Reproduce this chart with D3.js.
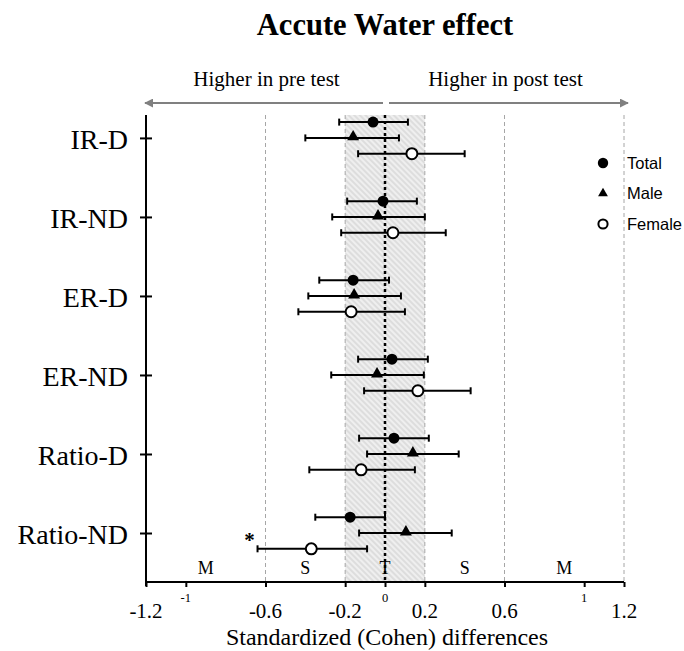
<!DOCTYPE html>
<html>
<head>
<meta charset="utf-8">
<script src="https://cdn.jsdelivr.net/npm/d3@7"></script>
<style>
  body { margin: 0; background: #fff; }
  svg { display: block; }
  .serif { font-family: "Liberation Serif", "Times New Roman", serif; }
  .sans { font-family: "Liberation Sans", Arial, sans-serif; }
</style>
</head>
<body>
<div class="chart"></div>
<script>
let width = 684,
    height = 651;

// categories, top to bottom
const categories = ["IR-D", "IR-ND", "ER-D", "ER-ND", "Ratio-D", "Ratio-ND"];
const groups = ["Total", "Male", "Female"];

// standardized differences (Cohen) with lower / upper limits
const totalMean = [-0.06, -0.01, -0.16, 0.035, 0.045, -0.175];
const totalLow  = [-0.23, -0.19, -0.33, -0.135, -0.13, -0.35];
const totalHigh = [0.115, 0.16, 0.02, 0.215, 0.22, 0.0];

const maleMean = [-0.16, -0.035, -0.155, -0.04, 0.14, 0.105];
const maleLow  = [-0.40, -0.265, -0.385, -0.27, -0.09, -0.13];
const maleHigh = [0.07, 0.20, 0.08, 0.195, 0.37, 0.335];

const femaleMean = [0.135, 0.04, -0.17, 0.165, -0.12, -0.37];
const femaleLow  = [-0.135, -0.22, -0.435, -0.105, -0.38, -0.64];
const femaleHigh = [0.40, 0.305, 0.10, 0.43, 0.15, -0.09];

// significant marks: [category, group]
const significant = [["Ratio-ND", "Female"]];

const xTicks = [-1.2, -1, -0.6, -0.2, 0, 0.2, 0.6, 1, 1.2];
const xBigLabels = [-1.2, -0.6, -0.2, 0.2, 0.6, 1.2];
const xSmallLabels = [-1, 0, 1];
const thresholds = [-0.6, -0.2, 0.2, 0.6, 1.2];
const trivialZone = [-0.2, 0.2];
const zoneNames = ["M", "S", "T", "S", "M"];
const zoneCenters = [-0.9, -0.4, 0, 0.4, 0.9];

const series = [
    {name: "Total", mean: totalMean, low: totalLow, high: totalHigh},
    {name: "Male", mean: maleMean, low: maleLow, high: maleHigh},
    {name: "Female", mean: femaleMean, low: femaleLow, high: femaleHigh}
];

let x = d3.scaleLinear().domain([-1.2, 1.2]).range([146, 624]);
// category index -> vertical position
let y = d3.scaleLinear().domain([-0.29, 5.62]).range([115, 582]);
const groupOffset = {Total: -0.2, Male: 0, Female: 0.2};

let svg = d3.select(".chart").append("svg")
    .attr("width", width)
    .attr("height", height);

let defs = svg.append("defs");
let pat = defs.append("pattern")
    .attr("id", "hatch")
    .attr("patternUnits", "userSpaceOnUse")
    .attr("width", 4)
    .attr("height", 4)
    .attr("patternTransform", "rotate(-45)");
pat.append("rect").attr("width", 4).attr("height", 4).attr("fill", "#efefef");
pat.append("line")
    .attr("x1", 1).attr("y1", 0).attr("x2", 1).attr("y2", 4)
    .attr("stroke", "#d6d6d6").attr("stroke-width", 1.4);

let yTop = y(-0.29), yBottom = y(5.62);

// title
svg.append("text")
    .attr("class", "serif")
    .attr("x", 385).attr("y", 35)
    .attr("text-anchor", "middle")
    .style("font-size", "30.5px")
    .style("font-weight", "bold")
    .text("Accute Water effect");

// pre / post arrows
defs.append("marker")
    .attr("id", "arrow")
    .attr("viewBox", "0 0 10 10")
    .attr("refX", 9).attr("refY", 5)
    .attr("markerWidth", 4.5).attr("markerHeight", 4.5)
    .attr("orient", "auto-start-reverse")
    .append("path")
    .attr("d", "M0,0 L10,5 L0,10 z")
    .attr("fill", "#808080");

svg.append("line")
    .attr("x1", x(0) - 2).attr("x2", x(-1.2) - 1)
    .attr("y1", 103).attr("y2", 103)
    .attr("stroke", "#808080").attr("stroke-width", 2)
    .attr("marker-end", "url(#arrow)");
svg.append("line")
    .attr("x1", x(0) + 4).attr("x2", x(1.2) + 4)
    .attr("y1", 103).attr("y2", 103)
    .attr("stroke", "#808080").attr("stroke-width", 2)
    .attr("marker-end", "url(#arrow)");

svg.append("text").attr("class", "serif")
    .attr("x", x(-0.6) + 1).attr("y", 86)
    .attr("text-anchor", "middle")
    .style("font-size", "21px")
    .text("Higher in pre test");
svg.append("text").attr("class", "serif")
    .attr("x", x(0.6) + 1).attr("y", 86)
    .attr("text-anchor", "middle")
    .style("font-size", "21px")
    .text("Higher in post test");

// trivial zone
svg.append("rect")
    .attr("x", x(trivialZone[0]))
    .attr("width", x(trivialZone[1]) - x(trivialZone[0]))
    .attr("y", yTop)
    .attr("height", yBottom - yTop)
    .attr("fill", "url(#hatch)");

// threshold lines
thresholds.forEach(t => {
    svg.append("line")
        .attr("x1", x(t)).attr("x2", x(t))
        .attr("y1", yTop).attr("y2", yBottom)
        .attr("stroke", "#a6a6a6")
        .attr("stroke-width", 1)
        .attr("stroke-dasharray", "4,3");
});

// zero line
svg.append("line")
    .attr("x1", x(0)).attr("x2", x(0))
    .attr("y1", yTop).attr("y2", yBottom)
    .attr("stroke", "#000")
    .attr("stroke-width", 2.5)
    .attr("stroke-dasharray", "3,3");

// zone letters
zoneNames.forEach((z, i) => {
    svg.append("text").attr("class", "serif")
        .attr("x", x(zoneCenters[i])).attr("y", 574)
        .attr("text-anchor", "middle")
        .style("font-size", "18px")
        .text(z);
});

// x axis
let xAxis = svg.append("g")
    .attr("transform", `translate(0,${yBottom})`)
    .call(d3.axisBottom(x).tickValues(xTicks).tickSize(5).tickFormat(""));
xAxis.select(".domain").attr("stroke-width", 2).attr("d", `M${x(-1.2)},0H${x(1.2)}`);
xAxis.selectAll(".tick line").attr("stroke-width", 2);

xBigLabels.forEach(v => {
    svg.append("text").attr("class", "serif")
        .attr("x", x(v)).attr("y", yBottom + 36)
        .attr("text-anchor", "middle")
        .attr("fill", "#000")
        .style("font-size", "21px")
        .text(v);
});
xSmallLabels.forEach(v => {
    svg.append("text").attr("class", "serif")
        .attr("x", x(v)).attr("y", yBottom + 20)
        .attr("text-anchor", "middle")
        .attr("fill", "#000")
        .style("font-size", "12.5px")
        .text(v);
});

svg.append("text").attr("class", "serif")
    .attr("x", 387).attr("y", 645)
    .attr("text-anchor", "middle")
    .style("font-size", "24px")
    .text("Standardized (Cohen) differences");

// y axis
let yAxis = svg.append("g")
    .attr("transform", `translate(${x(-1.2)},0)`)
    .call(d3.axisLeft(y).tickValues(d3.range(categories.length)).tickSize(6).tickFormat(i => categories[i]));
yAxis.select(".domain").attr("stroke-width", 2).attr("d", `M0,${yTop}V${yBottom + 4}`);
yAxis.selectAll(".tick line").attr("x2", 6).attr("x1", -6).attr("stroke-width", 2);
yAxis.selectAll(".tick text")
    .attr("class", "serif")
    .attr("x", -18)
    .attr("dy", "0.36em")
    .style("font-size", "28px")
    .attr("fill", "#000");

// error bars and markers
series.forEach(s => {
    let g = svg.append("g");
    categories.forEach((c, i) => {
        let cy = y(i + groupOffset[s.name]);
        g.append("line")
            .attr("x1", x(s.low[i])).attr("x2", x(s.high[i]))
            .attr("y1", cy).attr("y2", cy)
            .attr("stroke", "#000").attr("stroke-width", 2);
        [s.low[i], s.high[i]].forEach(v => {
            g.append("line")
                .attr("x1", x(v)).attr("x2", x(v))
                .attr("y1", cy - 3.5).attr("y2", cy + 3.5)
                .attr("stroke", "#000").attr("stroke-width", 2);
        });
        let cx = x(s.mean[i]);
        if (s.name === "Total") {
            g.append("circle").attr("cx", cx).attr("cy", cy).attr("r", 5.5).attr("fill", "#000");
        } else if (s.name === "Male") {
            g.append("path")
                .attr("d", d3.symbol(d3.symbolTriangle, 62)())
                .attr("transform", `translate(${cx},${cy - 1})`)
                .attr("fill", "#000");
        } else {
            g.append("circle").attr("cx", cx).attr("cy", cy).attr("r", 5.5)
                .attr("fill", "#fff").attr("stroke", "#000").attr("stroke-width", 2);
        }
    });
});

// significance marks
significant.forEach(([c, grp]) => {
    let i = categories.indexOf(c);
    let s = series.find(d => d.name === grp);
    svg.append("text").attr("class", "serif")
        .attr("x", x(s.low[i]) - 8)
        .attr("y", y(i + groupOffset[grp]) - 2)
        .attr("text-anchor", "middle")
        .style("font-size", "21px")
        .style("font-weight", "bold")
        .text("*");
});

// legend
let legend = svg.append("g").attr("transform", "translate(603,163)");
groups.forEach((name, i) => {
    let ly = i * 30.5;
    if (name === "Total") {
        legend.append("circle").attr("cx", 0).attr("cy", ly).attr("r", 5.2).attr("fill", "#000");
    } else if (name === "Male") {
        legend.append("path")
            .attr("d", d3.symbol(d3.symbolTriangle, 42)())
            .attr("transform", `translate(0,${ly})`)
            .attr("fill", "#000");
    } else {
        legend.append("circle").attr("cx", 0).attr("cy", ly).attr("r", 4.6)
            .attr("fill", "#fff").attr("stroke", "#000").attr("stroke-width", 2);
    }
    legend.append("text").attr("class", "sans")
        .attr("x", 24).attr("y", ly)
        .attr("dy", "0.35em")
        .style("font-size", "16.5px")
        .text(name);
});
</script>
</body>
</html>
